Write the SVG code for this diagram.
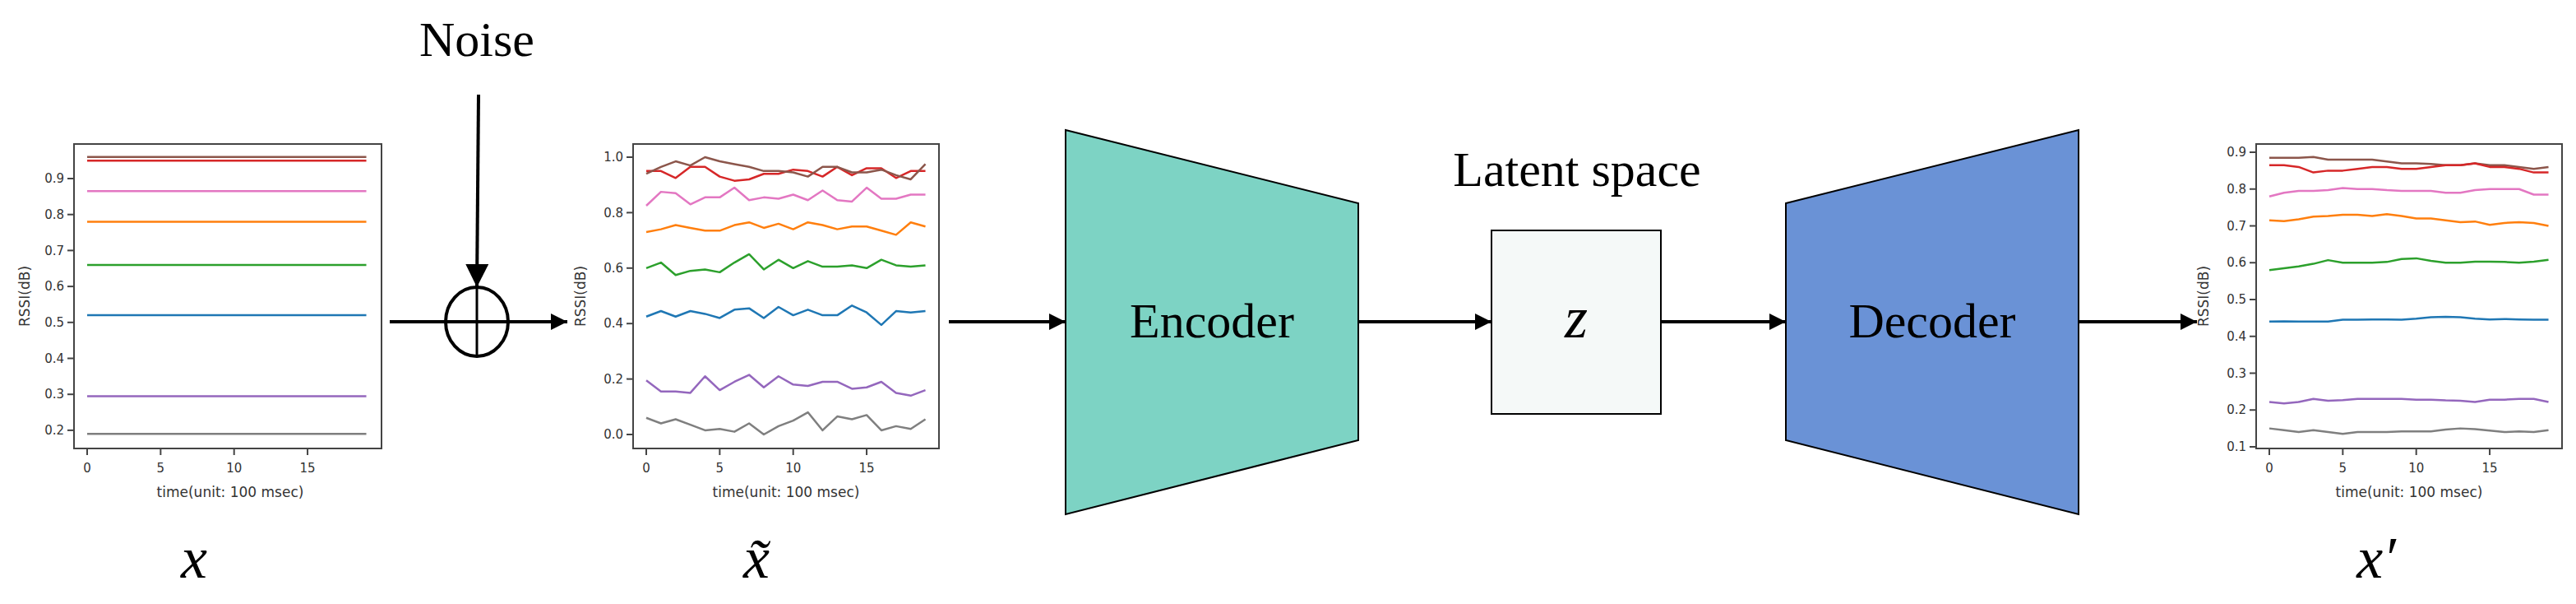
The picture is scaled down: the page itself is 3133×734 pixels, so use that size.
<svg xmlns="http://www.w3.org/2000/svg" width="3133" height="734" viewBox="0 0 3133 734">
<style>
.frame{fill:none;stroke:#444;stroke-width:2}
.tk{stroke:#444;stroke-width:2}
.tl{font-family:"DejaVu Sans",sans-serif;font-size:15px;fill:#333}
.yl{text-anchor:end}
.xl{text-anchor:middle}
.ax{font-family:"DejaVu Sans",sans-serif;font-size:17px;fill:#333;text-anchor:middle}
.d{fill:none;stroke-width:2.5;vector-effect:non-scaling-stroke;stroke-linejoin:round}
.conn{stroke:#000;stroke-width:4;fill:none}
.big{font-family:"Liberation Serif",serif;font-size:60px;fill:#000;text-anchor:middle}
.var{font-family:"Liberation Serif",serif;font-style:italic;font-size:72px;fill:#000;text-anchor:middle}
</style>
<defs>
<marker id="ah" viewBox="0 0 10 10" refX="10" refY="5" markerWidth="5" markerHeight="5" markerUnits="strokeWidth" orient="auto"><path d="M0,0 L10,5 L0,10 z" fill="#000"/></marker>
<marker id="ah2" viewBox="0 0 10 10" refX="10" refY="5" markerWidth="7" markerHeight="7" markerUnits="strokeWidth" orient="auto"><path d="M0,0 L10,5 L0,10 z" fill="#000"/></marker>
</defs>
<rect width="3133" height="734" fill="#fff"/>

<g id="noise">
<text class="big" x="580" y="68">Noise</text>
</g>

<g id="chart-x">
<rect class="frame" x="90" y="175" width="374" height="370"/>
<g class="tk"><line x1="82" y1="522.9" x2="90" y2="522.9"/><line x1="82" y1="479.2" x2="90" y2="479.2"/><line x1="82" y1="435.5" x2="90" y2="435.5"/><line x1="82" y1="391.8" x2="90" y2="391.8"/><line x1="82" y1="348.1" x2="90" y2="348.1"/><line x1="82" y1="304.4" x2="90" y2="304.4"/><line x1="82" y1="260.7" x2="90" y2="260.7"/><line x1="82" y1="217" x2="90" y2="217"/>
<line x1="106" y1="545" x2="106" y2="553"/><line x1="195.35" y1="545" x2="195.35" y2="553"/><line x1="284.7" y1="545" x2="284.7" y2="553"/><line x1="374.05" y1="545" x2="374.05" y2="553"/></g>
<g class="tl yl"><text x="78" y="528">0.2</text><text x="78" y="484">0.3</text><text x="78" y="441">0.4</text><text x="78" y="397">0.5</text><text x="78" y="353">0.6</text><text x="78" y="310">0.7</text><text x="78" y="266">0.8</text><text x="78" y="222">0.9</text></g>
<g class="tl xl"><text x="106" y="574">0</text><text x="195.35" y="574">5</text><text x="284.7" y="574">10</text><text x="374.05" y="574">15</text></g>
<text class="ax" x="280" y="604">time(unit: 100 msec)</text>
<text class="ax" transform="translate(36,360) rotate(-90)">RSSI(dB)</text>
<g transform="matrix(17.87,0,0,-437,106,610.3)">
<polyline class="d" stroke="#8c564b" points="0,0.96 19,0.96"/>
<polyline class="d" stroke="#d62728" points="0,0.95 19,0.95"/>
<polyline class="d" stroke="#e377c2" points="0,0.865 19,0.865"/>
<polyline class="d" stroke="#ff7f0e" points="0,0.78 19,0.78"/>
<polyline class="d" stroke="#2ca02c" points="0,0.66 19,0.66"/>
<polyline class="d" stroke="#1f77b4" points="0,0.52 19,0.52"/>
<polyline class="d" stroke="#9467bd" points="0,0.295 19,0.295"/>
<polyline class="d" stroke="#7f7f7f" points="0,0.19 19,0.19"/>
</g>
</g>

<g id="sum">
<ellipse cx="580" cy="391" rx="38" ry="42" fill="none" stroke="#000" stroke-width="4"/>
<line x1="580" y1="349" x2="580" y2="433" stroke="#000" stroke-width="3"/>
</g>

<g id="chart-xt">
<rect class="frame" x="770" y="175" width="372" height="370"/>
<g class="tk"><line x1="762" y1="528" x2="770" y2="528"/><line x1="762" y1="460.6" x2="770" y2="460.6"/><line x1="762" y1="393.2" x2="770" y2="393.2"/><line x1="762" y1="325.8" x2="770" y2="325.8"/><line x1="762" y1="258.4" x2="770" y2="258.4"/><line x1="762" y1="191" x2="770" y2="191"/>
<line x1="786" y1="545" x2="786" y2="553"/><line x1="875.35" y1="545" x2="875.35" y2="553"/><line x1="964.7" y1="545" x2="964.7" y2="553"/><line x1="1054.05" y1="545" x2="1054.05" y2="553"/></g>
<g class="tl yl"><text x="758" y="533">0.0</text><text x="758" y="466">0.2</text><text x="758" y="398">0.4</text><text x="758" y="331">0.6</text><text x="758" y="264">0.8</text><text x="758" y="196">1.0</text></g>
<g class="tl xl"><text x="786" y="574">0</text><text x="875.35" y="574">5</text><text x="964.7" y="574">10</text><text x="1054.05" y="574">15</text></g>
<text class="ax" x="956" y="604">time(unit: 100 msec)</text>
<text class="ax" transform="translate(712,360) rotate(-90)">RSSI(dB)</text>
<g transform="matrix(17.87,0,0,-337,786,528)">
<polyline class="d" stroke="#d62728" points="0,.95 1,.95 2,.925 3,.965 4,.965 5,.93 6,.915 7,.92 8,.94 9,.94 10,.955 11,.95 12,.93 13,.965 14,.935 15,.96 16,.96 17,.925 18,.95 19,.95"/>
<polyline class="d" stroke="#8c564b" points="0,.94 1,.965 2,.985 3,.97 4,1 5,.985 6,.975 7,.965 8,.95 9,.95 10,.945 11,.93 12,.965 13,.965 14,.945 15,.945 16,.955 17,.935 18,.92 19,.975"/>
<polyline class="d" stroke="#e377c2" points="0,.825 1,.875 2,.87 3,.83 4,.855 5,.855 6,.89 7,.845 8,.855 9,.85 10,.865 11,.845 12,.88 13,.845 14,.84 15,.89 16,.85 17,.85 18,.865 19,.865"/>
<polyline class="d" stroke="#ff7f0e" points="0,.73 1,.74 2,.755 3,.745 4,.735 5,.735 6,.755 7,.765 8,.745 9,.76 10,.74 11,.765 12,.755 13,.74 14,.75 15,.75 16,.735 17,.72 18,.765 19,.75"/>
<polyline class="d" stroke="#2ca02c" points="0,.6 1,.62 2,.575 3,.59 4,.595 5,.585 6,.62 7,.65 8,.595 9,.63 10,.6 11,.625 12,.605 13,.605 14,.61 15,.6 16,.63 17,.61 18,.605 19,.61"/>
<polyline class="d" stroke="#1f77b4" points="0,.425 1,.445 2,.425 3,.445 4,.435 5,.42 6,.45 7,.455 8,.42 9,.46 10,.43 11,.45 12,.43 13,.43 14,.465 15,.44 16,.395 17,.445 18,.44 19,.445"/>
<polyline class="d" stroke="#9467bd" points="0,.195 1,.155 2,.155 3,.15 4,.21 5,.16 6,.19 7,.215 8,.17 9,.21 10,.18 11,.175 12,.19 13,.19 14,.165 15,.17 16,.19 17,.15 18,.14 19,.16"/>
<polyline class="d" stroke="#7f7f7f" points="0,.06 1,.04 2,.055 3,.035 4,.015 5,.02 6,.01 7,.04 8,0 9,.03 10,.05 11,.08 12,.015 13,.065 14,.055 15,.07 16,.015 17,.03 18,.02 19,.055"/>
</g>
</g>

<g id="encoder">
<polygon points="1296,158 1652,247 1652,535 1296,625" fill="#7dd3c4" stroke="#000" stroke-width="2"/>
<text class="big" x="1474" y="410">Encoder</text>
</g>

<g id="latent-label">
<text class="big" x="1918" y="226">Latent space</text>
</g>

<g id="z">
<rect x="1814" y="280" width="206" height="223" fill="#f5f9f8" stroke="#000" stroke-width="2"/>
<text class="var" x="1917" y="410">z</text>
</g>

<g id="decoder">
<polygon points="2172,247 2528,158 2528,625 2172,535" fill="#6a92d6" stroke="#000" stroke-width="2"/>
<text class="big" x="2350" y="410">Decoder</text>
</g>

<g id="chart-xp">
<rect class="frame" x="2744" y="175" width="372" height="370"/>
<g class="tk"><line x1="2736" y1="543" x2="2744" y2="543"/><line x1="2736" y1="498.25" x2="2744" y2="498.25"/><line x1="2736" y1="453.5" x2="2744" y2="453.5"/><line x1="2736" y1="408.75" x2="2744" y2="408.75"/><line x1="2736" y1="364" x2="2744" y2="364"/><line x1="2736" y1="319.25" x2="2744" y2="319.25"/><line x1="2736" y1="274.5" x2="2744" y2="274.5"/><line x1="2736" y1="229.75" x2="2744" y2="229.75"/><line x1="2736" y1="185" x2="2744" y2="185"/>
<line x1="2760" y1="545" x2="2760" y2="553"/><line x1="2849.35" y1="545" x2="2849.35" y2="553"/><line x1="2938.7" y1="545" x2="2938.7" y2="553"/><line x1="3028.05" y1="545" x2="3028.05" y2="553"/></g>
<g class="tl yl"><text x="2732" y="548">0.1</text><text x="2732" y="503">0.2</text><text x="2732" y="459">0.3</text><text x="2732" y="414">0.4</text><text x="2732" y="369">0.5</text><text x="2732" y="324">0.6</text><text x="2732" y="280">0.7</text><text x="2732" y="235">0.8</text><text x="2732" y="190">0.9</text></g>
<g class="tl xl"><text x="2760" y="574">0</text><text x="2849.35" y="574">5</text><text x="2938.7" y="574">10</text><text x="3028.05" y="574">15</text></g>
<text class="ax" x="2930" y="604">time(unit: 100 msec)</text>
<text class="ax" transform="translate(2686,360) rotate(-90)">RSSI(dB)</text>
<g transform="matrix(17.87,0,0,-447.5,2760,587.75)">
<polyline class="d" stroke="#8c564b" points="0,.885 1,.885 2,.885 3,.887 4,.88 5,.88 6,.88 7,.88 8,.875 9,.87 10,.87 11,.868 12,.865 13,.865 14,.87 15,.865 16,.865 17,.86 18,.855 19,.86"/>
<polyline class="d" stroke="#d62728" points="0,.865 1,.865 2,.86 3,.845 4,.85 5,.85 6,.855 7,.86 8,.86 9,.855 10,.855 11,.86 12,.865 13,.865 14,.87 15,.86 16,.86 17,.855 18,.845 19,.845"/>
<polyline class="d" stroke="#e377c2" points="0,.78 1,.79 2,.795 3,.795 4,.797 5,.803 6,.8 7,.8 8,.797 9,.795 10,.795 11,.795 12,.79 13,.79 14,.797 15,.8 16,.8 17,.8 18,.785 19,.785"/>
<polyline class="d" stroke="#ff7f0e" points="0,.715 1,.713 2,.718 3,.725 4,.727 5,.73 6,.73 7,.727 8,.732 9,.727 10,.72 11,.72 12,.715 13,.71 14,.712 15,.703 16,.708 17,.71 18,.708 19,.7"/>
<polyline class="d" stroke="#2ca02c" points="0,.58 1,.585 2,.59 3,.597 4,.607 5,.6 6,.6 7,.6 8,.602 9,.61 10,.612 11,.605 12,.6 13,.6 14,.603 15,.603 16,.602 17,.6 18,.603 19,.608"/>
<polyline class="d" stroke="#1f77b4" points="0,.44 1,.441 2,.44 3,.44 4,.44 5,.445 6,.445 7,.446 8,.446 9,.445 10,.448 11,.452 12,.453 13,.452 14,.448 15,.446 16,.447 17,.446 18,.445 19,.445"/>
<polyline class="d" stroke="#9467bd" points="0,.222 1,.218 2,.222 3,.23 4,.225 5,.227 6,.23 7,.23 8,.23 9,.23 10,.228 11,.228 12,.226 13,.225 14,.222 15,.228 16,.228 17,.23 18,.23 19,.222"/>
<polyline class="d" stroke="#7f7f7f" points="0,.15 1,.145 2,.14 3,.145 4,.14 5,.135 6,.14 7,.14 8,.14 9,.142 10,.142 11,.142 12,.147 13,.15 14,.148 15,.144 16,.14 17,.142 18,.14 19,.145"/>
</g>
</g>

<g id="var-x"><text class="var" x="236" y="702">x</text></g>
<g id="var-xt"><text class="var" x="920" y="702">x̃</text></g>
<g id="var-xp"><text class="var" x="2890" y="702">x′</text></g>

<g id="connectors">
<line class="conn" stroke-width="3" x1="582" y1="115" x2="580" y2="349" marker-end="url(#ah2)"/>
<line class="conn" x1="474" y1="391" x2="690" y2="391" marker-end="url(#ah)"/>
<line class="conn" x1="1154" y1="391" x2="1296" y2="391" marker-end="url(#ah)"/>
<line class="conn" x1="1652" y1="391" x2="1814" y2="391" marker-end="url(#ah)"/>
<line class="conn" x1="2020" y1="391" x2="2172" y2="391" marker-end="url(#ah)"/>
<line class="conn" x1="2528" y1="391" x2="2672" y2="391" marker-end="url(#ah)"/>
</g>
</svg>
